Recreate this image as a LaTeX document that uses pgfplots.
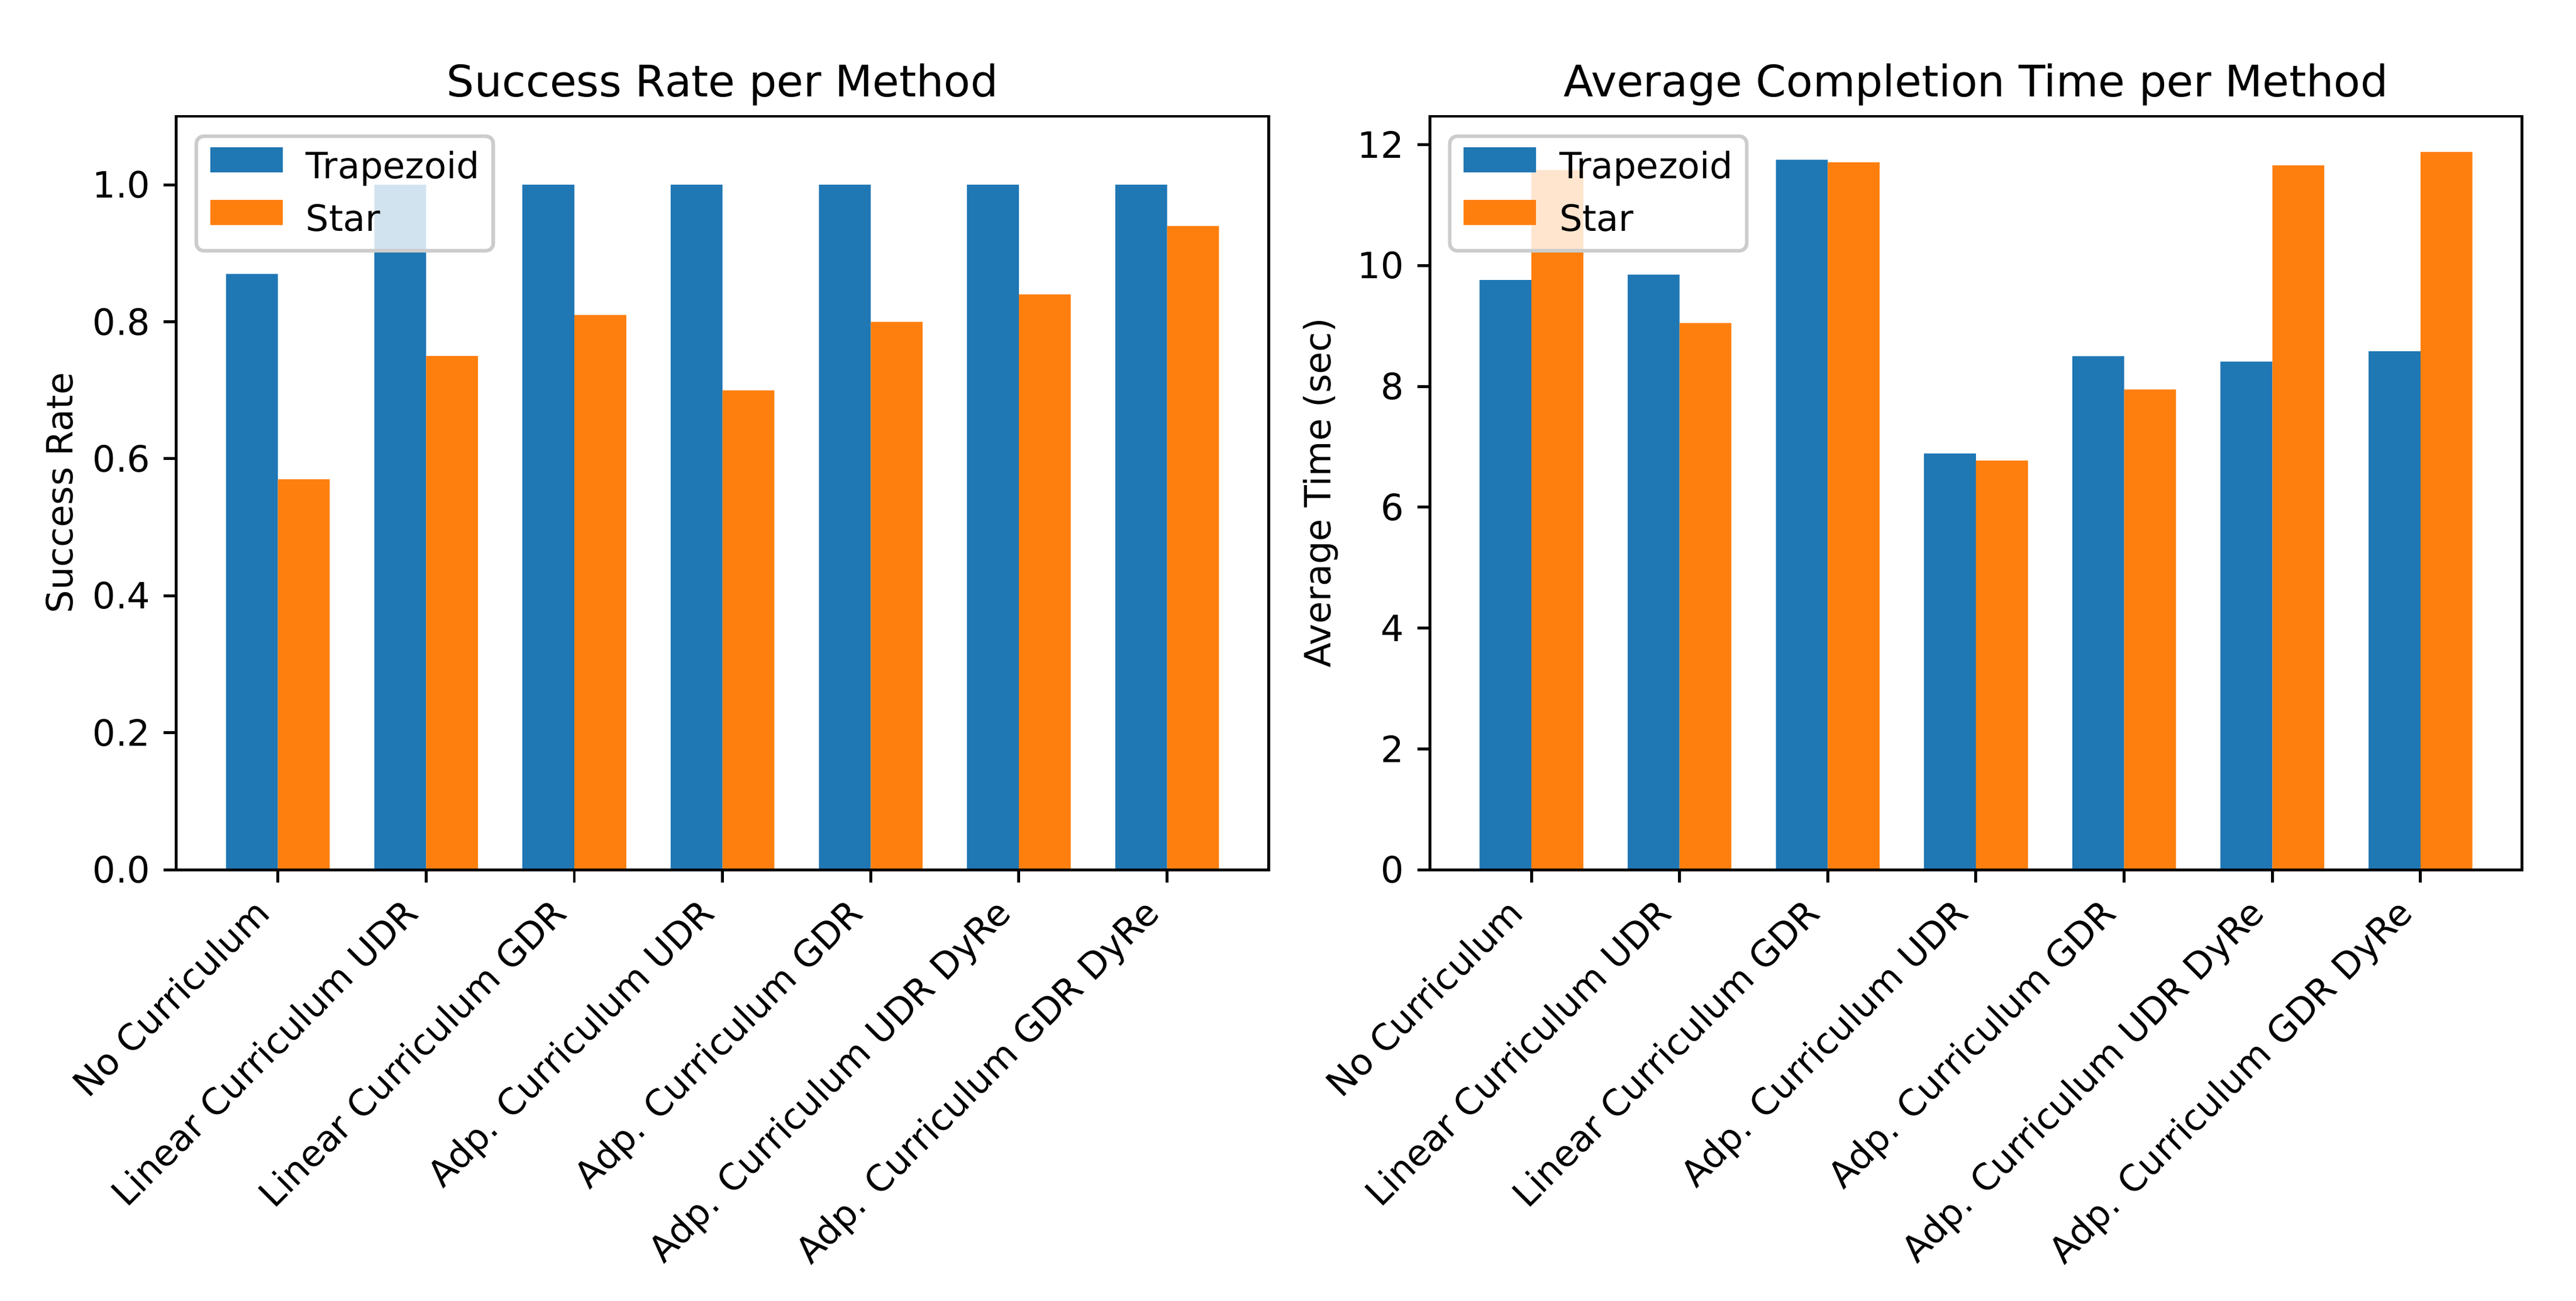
\documentclass[border=0pt]{standalone}
\usepackage{pgfplots}
\pgfplotsset{compat=1.18}
\usepackage{fontspec}
\setmainfont{DejaVu Sans}
\definecolor{c0}{HTML}{1F77B4}
\definecolor{c1}{HTML}{FF7F0E}
\pgfplotstableread{
x y
-0.175 0.87
0.825 1.00
1.825 1.00
2.825 1.00
3.825 1.00
4.825 1.00
5.825 1.00
}\srtrap
\pgfplotstableread{
x y
0.175 0.57
1.175 0.75
2.175 0.81
3.175 0.70
4.175 0.80
5.175 0.84
6.175 0.94
}\srstar
\pgfplotstableread{
x y
-0.175 9.76
0.825 9.85
1.825 11.75
2.825 6.89
3.825 8.50
4.825 8.41
5.825 8.58
}\tmtrap
\pgfplotstableread{
x y
0.175 11.58
1.175 9.05
2.175 11.71
3.175 6.77
4.175 7.95
5.175 11.66
6.175 11.88
}\tmstar
\pgfplotsset{
 mystyle/.style={
  scale only axis, width=301.5pt, height=207.9pt,
  xmin=-0.685, xmax=6.685, ymin=0,
  xtick={0,...,6},
  xticklabels={No Curriculum, Linear Curriculum UDR, Linear Curriculum GDR, Adp. Curriculum UDR, Adp. Curriculum GDR, Adp. Curriculum UDR DyRe, Adp. Curriculum GDR DyRe},
  tick pos=left, tick align=outside, major tick length=3.5pt, minor tick num=0,
  every tick/.style={black, line width=0.8pt},
  axis line style={line width=0.8pt},
  axis on top,
  /pgf/number format/assume math mode=true,
  ticklabel style={font=\fontsize{10}{12}\selectfont},
  xticklabel style={inner sep=0pt, text height=7.6pt, text depth=2.4pt, xshift=-7.07pt, yshift=-3.5pt, rotate=45, anchor=north east},
  yticklabel style={inner sep=0pt, anchor=east, xshift=-3.5pt},
  ylabel style={font=\fontsize{10}{12}\selectfont, yshift=1.8pt},
  title style={font=\fontsize{12}{14}\selectfont, at={(0.5,1)}, anchor=south, inner sep=0pt, yshift=-3.3pt},
  legend cell align=left,
  legend style={at={(0,1)}, anchor=north west, xshift=5pt, yshift=-5pt,
    draw=black!20, line width=1pt, rounded corners=2pt, fill=white, fill opacity=0.8, text opacity=1,
    inner xsep=3.8pt, inner ysep=3pt, font=\fontsize{10}{12}\selectfont,
    row sep=3.4pt, column sep=6.5pt,
    nodes={inner sep=0pt, text height=7.6pt, text depth=2.4pt, anchor=west}},
  legend image code/.code={\fill[##1, fill opacity=1, sharp corners] (0pt,-0.9pt) rectangle (20pt,6.1pt);},
 }
}
\begin{document}
\begin{tikzpicture}
\useasboundingbox (0,0) rectangle (711.1pt,358.9pt);
\begin{axis}[mystyle, at={(48.7pt,118.9pt)}, anchor=south west,
  ymax=1.1, ytick={0,0.2,...,1.0},
  yticklabel style={/pgf/number format/fixed, /pgf/number format/fixed zerofill, /pgf/number format/precision=1},
  title={Success Rate per Method}, ylabel={Success Rate}]
\addplot[ybar, bar width=0.35, bar shift=0pt, fill=c0, draw=none] table[x=x,y=y] {\srtrap};
\addlegendentry{Trapezoid}
\addplot[ybar, bar width=0.35, bar shift=0pt, fill=c1, draw=none] table[x=x,y=y] {\srstar};
\addlegendentry{Star}
\end{axis}
\begin{axis}[mystyle, at={(394.7pt,118.9pt)}, anchor=south west,
  ymax=12.47, ytick={0,2,...,12},
  title={Average Completion Time per Method}, ylabel={Average Time (sec)}]
\addplot[ybar, bar width=0.35, bar shift=0pt, fill=c0, draw=none] table[x=x,y=y] {\tmtrap};
\addlegendentry{Trapezoid}
\addplot[ybar, bar width=0.35, bar shift=0pt, fill=c1, draw=none] table[x=x,y=y] {\tmstar};
\addlegendentry{Star}
\end{axis}
\end{tikzpicture}
\end{document}
